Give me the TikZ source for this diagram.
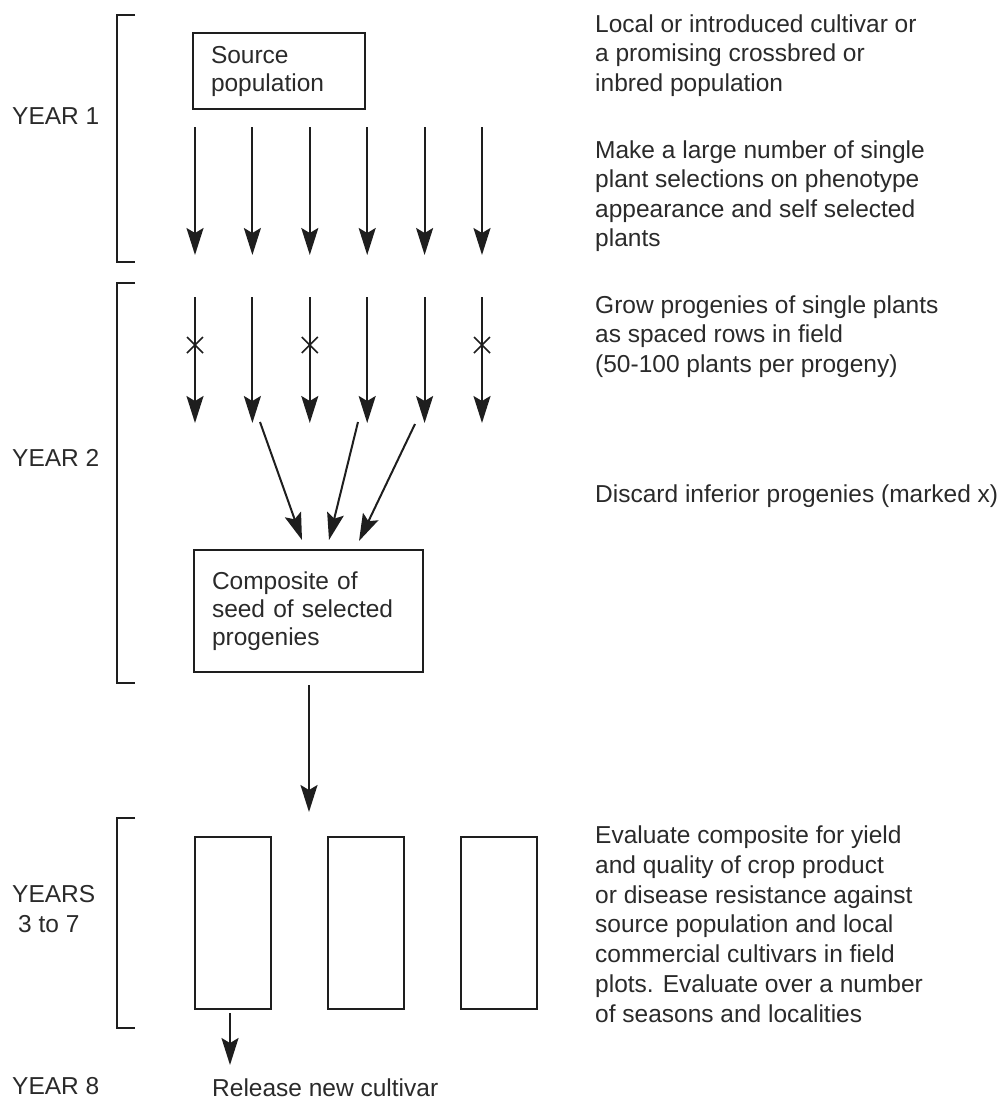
\documentclass[tikz,border=0pt]{standalone}
\usepackage{fontspec}
\setmainfont{Liberation Sans}
\usetikzlibrary{arrows.meta}
\definecolor{linec}{HTML}{1E1E1E}
\definecolor{textc}{HTML}{2A2A2A}

\begin{document}
\begin{tikzpicture}[x=1pt,y=-1pt,
  ink/.style={draw=linec, line width=2pt},
  flow/.style={ink, -{Stealth[length=27pt,width=17pt,inset=5pt]}},
  bracket/.style={draw=linec, line width=2.4pt},
  xmark/.style={draw=linec, line width=1.6pt},
  label/.style={inner sep=0pt, anchor=north west, align=left, text=textc,
                font=\fontsize{24.5}{29.4}\selectfont},
  boxed/.style={ink, anchor=north west, align=left, text=textc, inner xsep=18pt,
                font=\fontsize{24.5}{28}\selectfont},
  plot/.style={ink, anchor=north west, minimum width=76pt, minimum height=172pt, inner sep=0pt}
]
\useasboundingbox (0,0) rectangle (1003,1101);

% year brackets
\draw[bracket] (135,15) -- (117,15) -- (117,262) -- (135,262);
\draw[bracket] (135,283) -- (117,283) -- (117,683) -- (135,683);
\draw[bracket] (135,818) -- (117,818) -- (117,1028) -- (135,1028);

% year labels
\node[label] (y1) at (12,107.5) {YEAR 1};
\node[label] (y2) at (12,449.5) {YEAR 2};
\node[label] (y37) at (12,885.5) {YEARS\\\hspace*{6pt}3 to 7};
\node[label] (y8) at (12,1077.5) {YEAR 8};

% boxes
\node[boxed, text width=136pt, minimum height=76pt] (src) at (192,32) {Source\\population};
\node[boxed, text width=193pt, minimum height=122pt] (comp) at (193,549)
  {Composite of\\seed of selected\\progenies};

% single-plant selections and their progeny rows
\foreach \i in {1,...,6} {
  \pgfmathsetmacro{\xx}{195+57.4*(\i-1)}
  \coordinate (a\i) at (\xx,127);
  \coordinate (b\i) at (\xx,255);
  \coordinate (c\i) at (\xx,297);
  \coordinate (d\i) at (\xx,423);
  \coordinate (m\i) at (\xx,345);
  \draw[flow] (a\i) -- (b\i);
  \draw[flow] (c\i) -- (d\i);
}
% discarded progenies
\foreach \i in {1,3,6} {
  \draw[xmark] ([shift={(-8,-8)}]m\i) -- ([shift={(8,8)}]m\i);
  \draw[xmark] ([shift={(-8,8)}]m\i) -- ([shift={(8,-8)}]m\i);
}

% selected progenies bulked into the composite
\coordinate (s2) at (260,422);
\coordinate (s4) at (358,422);
\coordinate (s5) at (415,424);
\coordinate (e2) at (302,540);
\coordinate (e4) at (329,540);
\coordinate (e5) at (359,541);
\draw[flow] (s2) -- (e2);
\draw[flow] (s4) -- (e4);
\draw[flow] (s5) -- (e5);

% composite to field trials
\coordinate (ct) at (309,685);
\coordinate (cb) at (309,812);
\draw[flow] (ct) -- (cb);

% field plots
\node[plot] (p1) at (194,836) {};
\node[plot] (p2) at (327,836) {};
\node[plot] (p3) at (460,836) {};

\coordinate (rt) at (230,1013);
\coordinate (rb) at (230,1065);
\draw[flow] (rt) -- (rb);
\node[label] (rel) at (212,1078.5) {Release new cultivar};

% notes
\node[label] (n1) at (595,14.5) {Local or introduced cultivar or\\a promising crossbred or\\inbred population};
\node[label] (n2) at (595,140.5) {Make a large number of single\\plant selections on phenotype\\appearance and self selected\\plants};
\node[label] (n3) at (595,295.5) {Grow progenies of single plants\\as spaced rows in field\\(50-100 plants per progeny)};
\node[label] (n4) at (595,484.5) {Discard inferior progenies (marked x)};
\node[label, font=\fontsize{24.5}{29.8}\selectfont] (n5) at (595,825.5)
  {Evaluate composite for yield\\and quality of crop product\\or disease resistance against\\source population and local\\commercial cultivars in field\\plots. Evaluate over a number\\of seasons and localities};
\end{tikzpicture}
\end{document}
